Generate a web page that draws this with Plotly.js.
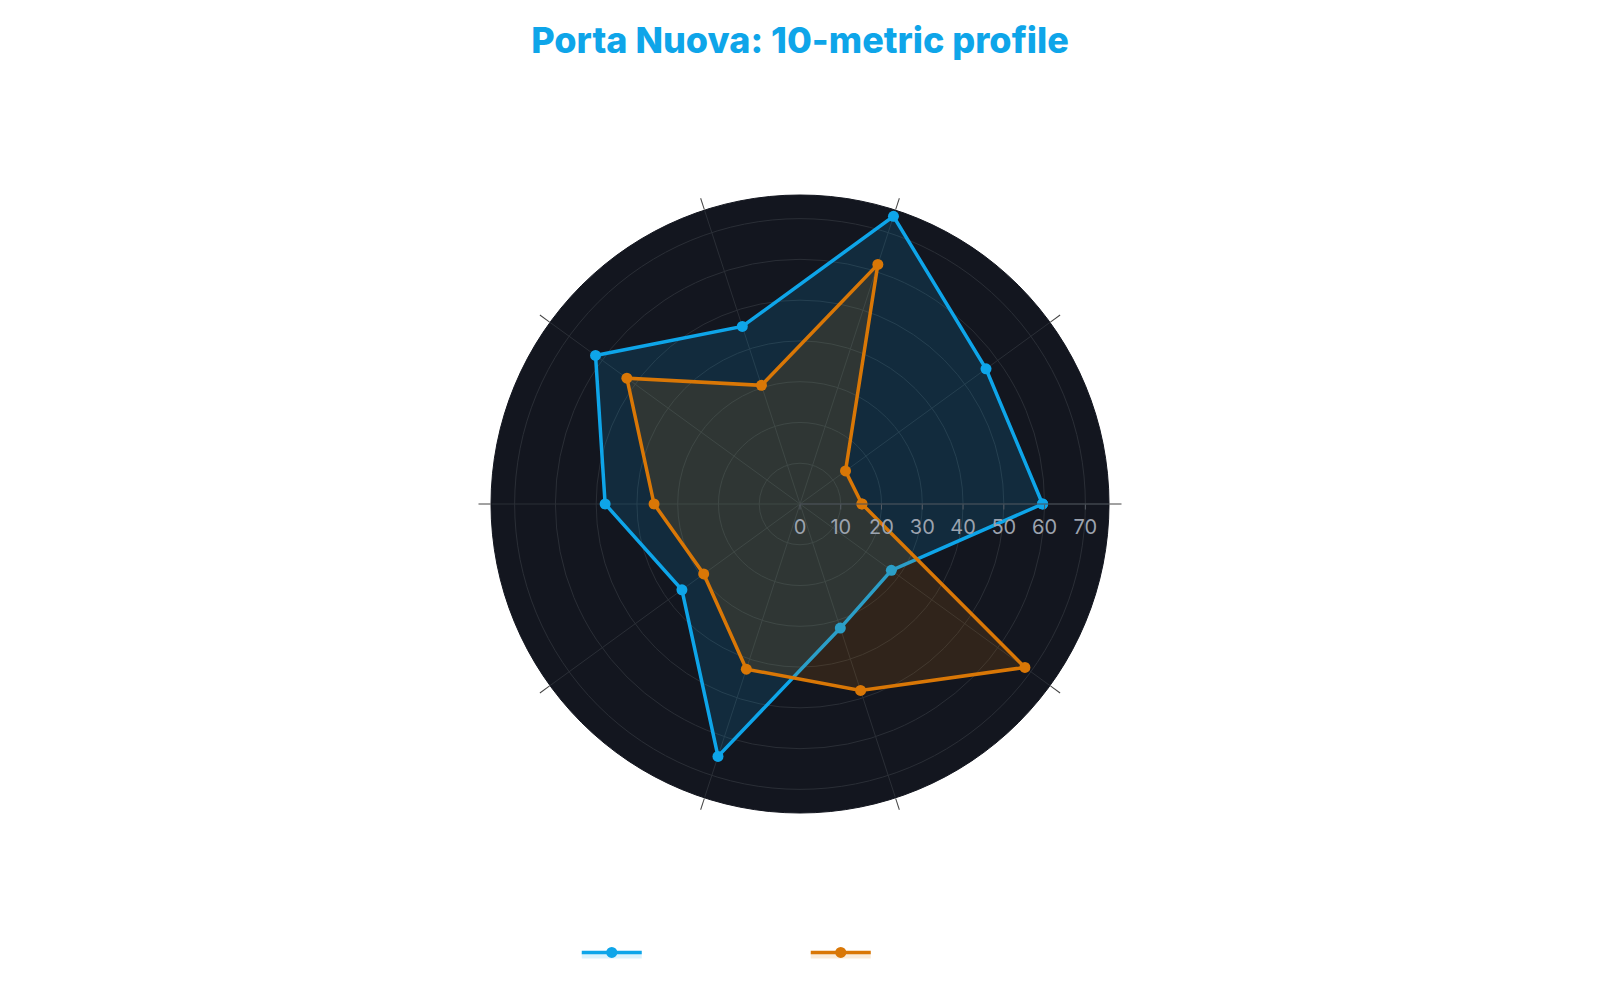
<!DOCTYPE html>
<html>
<head>
<meta charset="utf-8">
<script src="https://cdn.plot.ly/plotly-3.0.1.min.js"></script>
<style>
  html, body { margin: 0; padding: 0; background: #ffffff; }
  #myDiv { width: 1600px; height: 1000px; }
</style>
</head>
<body>
<div id="myDiv"></div>
<script>
var metrics = ['Transit', 'Green space', 'Nightlife', 'Dining', 'Culture',
               'Schools', 'Safety', 'Shopping', 'Affordability', 'Quiet'];

var portaNuova = [59.5, 56.4, 74.2, 45.8, 62, 47.8, 35.8, 65.1, 32, 27.7];
var cityAvg = [15.2, 13.8, 61.8, 30.6, 52.5, 35.8, 29.2, 42.6, 48.1, 68.2];

// close the polygons
function closed(arr) { return arr.concat([arr[0]]); }

var trace1 = {
  type: 'scatterpolar',
  r: closed(portaNuova),
  theta: closed(metrics),
  name: 'Porta Nuova',
  mode: 'lines+markers',
  fill: 'toself',
  fillcolor: 'rgba(14,165,233,0.15)',
  line: {color: '#0ea5e9', width: 3.5},
  marker: {color: '#0ea5e9', size: 11}
};

var trace2 = {
  type: 'scatterpolar',
  r: closed(cityAvg),
  theta: closed(metrics),
  name: 'City average',
  mode: 'lines+markers',
  fill: 'toself',
  fillcolor: 'rgba(217,119,6,0.15)',
  line: {color: '#d97706', width: 3.5},
  marker: {color: '#d97706', size: 11}
};

var layout = {
  width: 1600,
  height: 1000,
  paper_bgcolor: '#ffffff',
  font: {family: 'Inter, sans-serif', size: 18, color: '#ffffff'},
  title: {
    text: 'Porta Nuova: 10-metric profile',
    font: {family: 'Inter, sans-serif', size: 36, weight: 800, color: '#0ea5e9'},
    x: 0.5, y: 0.972
  },
  margin: {l: 80, r: 80, t: 195, b: 187},
  showlegend: true,
  legend: {
    orientation: 'h',
    x: 0.504, xanchor: 'center',
    y: -0.26, yanchor: 'bottom',
    itemwidth: 60,
    entrywidth: 154,
    font: {color: '#ffffff', size: 22}
  },
  polar: {
    bgcolor: '#13161f',
    radialaxis: {
      range: [0, 75.8],
      angle: 0,
      tickangle: 0,
      dtick: 10,
      ticks: 'outside',
      tickcolor: '#555a63',
      tickfont: {color: '#9ca3af', size: 20},
      gridcolor: '#2a2e36',
      linecolor: '#4b5058',
      showline: true
    },
    angularaxis: {
      rotation: 0,
      direction: 'counterclockwise',
      ticks: 'outside',
      ticklen: 12,
      tickcolor: '#444444',
      showticklabels: false,
      gridcolor: '#2a2e36',
      linecolor: '#13161f'
    }
  }
};

Plotly.newPlot('myDiv', [trace1, trace2], layout, {displayModeBar: false});
</script>
</body>
</html>
